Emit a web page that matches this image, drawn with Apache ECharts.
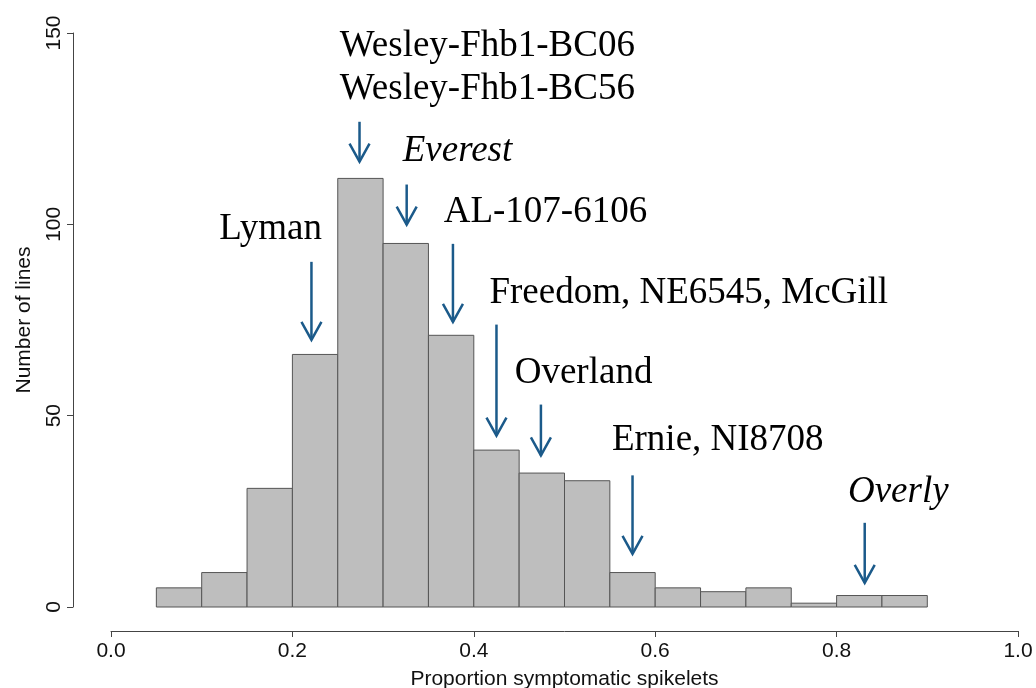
<!DOCTYPE html>
<html>
<head>
<meta charset="utf-8">
<script src="https://cdn.jsdelivr.net/npm/echarts@6/dist/echarts.min.js"></script>
<style>
  html, body { margin: 0; padding: 0; background: #fff; }
  #main { width: 1036px; height: 688px; }
</style>
</head>
<body>
<div id="main"></div>
<script>
// histogram bins (lower edge, width 0.05) and counts
var binStart = [0.05, 0.10, 0.15, 0.20, 0.25, 0.30, 0.35, 0.40, 0.45, 0.50, 0.55, 0.60, 0.65, 0.70, 0.75, 0.80, 0.85]
var counts = [5, 9, 31, 66, 112, 95, 71, 41, 35, 33, 9, 5, 4, 5, 1, 3, 3]
var binWidth = 0.05

// annotations: arrow x, arrow top, arrow tip (data units)
var arrowX = [0.221, 0.274, 0.326, 0.377, 0.425, 0.474, 0.575, 0.831]
var arrowTop = [90.2, 126.8, 110.4, 94.9, 73.8, 52.9, 34.4, 22.0]
var arrowTip = [69.8, 116.4, 99.9, 74.5, 44.8, 39.6, 13.9, 6.3]

// labels: text, centre x, centre y (data units), italic or not
var labelText = ['Lyman', 'Wesley-Fhb1-BC06\nWesley-Fhb1-BC56', 'Everest', 'AL-107-6106',
  'Freedom, NE6545, McGill', 'Overland', 'Ernie, NI8708', 'Overly']
var labelX = [0.176, 0.415, 0.382, 0.479, 0.637, 0.521, 0.669, 0.868]
var labelY = [98.6, 140.8, 119.0, 103.1, 82.1, 61.2, 43.5, 29.9]
var labelItalic = [false, false, true, false, false, false, false, true]

var arrowColor = '#1b5a8a'
var serif = '"Liberation Serif", "Times New Roman", serif'
var sans = '"Liberation Sans", Arial, sans-serif'

var histData = binStart.map(function (b, i) { return [b, b + binWidth, counts[i]] })
var arrowData = arrowX.map(function (x, i) { return [x, arrowTop[i], arrowTip[i]] })
var labelData = labelText.map(function (t, i) { return [labelX[i], labelY[i]] })

var chart = echarts.init(document.getElementById('main'))
chart.setOption({
  animation: false,
  backgroundColor: '#fff',
  grid: { left: 111, right: 18, top: 33, bottom: 81, outerBoundsMode: 'none', containLabel: false },
  xAxis: {
    type: 'value', min: 0, max: 1, interval: 0.2,
    offset: 24,
    splitLine: { show: false },
    axisLine: { show: true, onZero: false, lineStyle: { color: '#444', width: 1 } },
    axisTick: { show: true, length: 6, lineStyle: { color: '#444' } },
    axisLabel: {
      color: '#111', fontFamily: sans, fontSize: 21, margin: 10,
      formatter: function (v) { return v.toFixed(1) }
    },
    name: 'Proportion symptomatic spikelets',
    nameLocation: 'middle', nameGap: 38,
    nameTextStyle: { color: '#111', fontFamily: sans, fontSize: 21 }
  },
  yAxis: {
    type: 'value', min: 0, max: 150, interval: 50,
    offset: 38,
    splitLine: { show: false },
    axisLine: { show: true, onZero: false, lineStyle: { color: '#444', width: 1 } },
    axisTick: { show: true, length: 6, lineStyle: { color: '#444' } },
    axisLabel: { color: '#111', fontFamily: sans, fontSize: 21, rotate: 90, margin: 8 },
    name: 'Number of lines',
    nameLocation: 'middle', nameGap: 38, nameRotate: 90,
    nameTextStyle: { color: '#111', fontFamily: sans, fontSize: 21 }
  },
  series: [
    {
      type: 'custom',
      data: histData,
      clip: false,
      renderItem: function (params, api) {
        var p0 = api.coord([api.value(0), api.value(2)])
        var p1 = api.coord([api.value(1), 0])
        return {
          type: 'rect',
          shape: { x: p0[0], y: p0[1], width: p1[0] - p0[0], height: p1[1] - p0[1] },
          style: { fill: '#bebebe', stroke: '#555', lineWidth: 1 }
        }
      }
    },
    {
      type: 'custom',
      data: arrowData,
      clip: false,
      renderItem: function (params, api) {
        var top = api.coord([api.value(0), api.value(1)])
        var tip = api.coord([api.value(0), api.value(2)])
        var st = { stroke: arrowColor, lineWidth: 2.5, fill: null, lineCap: 'butt' }
        return {
          type: 'group',
          children: [
            { type: 'line', shape: { x1: top[0], y1: top[1], x2: tip[0], y2: tip[1] }, style: st },
            { type: 'polyline', shape: { points: [[tip[0] - 10, tip[1] - 18], [tip[0], tip[1]], [tip[0] + 10, tip[1] - 18]] }, style: st }
          ]
        }
      }
    },
    {
      type: 'custom',
      data: labelData,
      clip: false,
      renderItem: function (params, api) {
        var p = api.coord([api.value(0), api.value(1)])
        var i = params.dataIndex
        return {
          type: 'text',
          x: p[0], y: p[1],
          style: {
            text: labelText[i],
            fill: '#000',
            font: (labelItalic[i] ? 'italic ' : '') + '37px ' + serif,
            align: 'center', verticalAlign: 'middle',
            lineHeight: 43
          }
        }
      }
    }
  ]
})
</script>
</body>
</html>
